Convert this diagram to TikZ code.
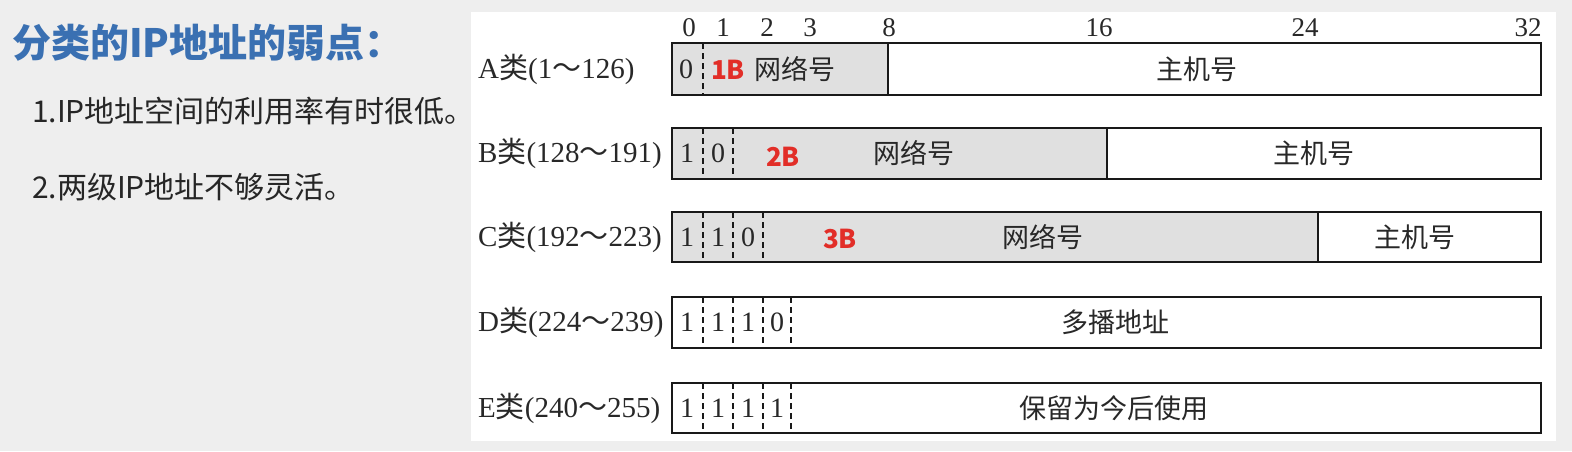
\documentclass[tikz,border=0pt]{standalone}
\usepackage{fontspec}
\setmainfont{Liberation Serif}
\newfontfamily\cjk{Noto Sans CJK SC}
\definecolor{titleblue}{RGB}{58,112,178}
\definecolor{netgray}{RGB}{224,224,224}
\definecolor{markred}{RGB}{226,46,40}
\definecolor{bggray}{RGB}{238,238,238}
\definecolor{inkgray}{RGB}{40,40,40}

\begin{document}
\begin{tikzpicture}[x=1pt,y=-1pt,
  bitno/.style={inner sep=0pt,text=inkgray,font=\fontsize{27}{27}\selectfont},
  bitval/.style={inner sep=0pt,text=inkgray,font=\fontsize{28}{28}\selectfont},
  cls/.style={anchor=west,inner sep=0pt,text=inkgray,font=\fontsize{29}{29}\selectfont},
  field/.style={inner sep=0pt,text=inkgray,font=\cjk\fontsize{27}{27}\selectfont},
  bytes/.style={inner sep=0pt,text=markred,font=\cjk\bfseries\fontsize{26}{26}\selectfont},
  point/.style={anchor=west,inner sep=0pt,text=black!85,font=\cjk\fontsize{30}{30}\selectfont},
  frame/.style={line width=2.5pt,black!90},
  sep/.style={line width=1.5pt,black!90},
  bitsep/.style={line width=1.2pt,black!90,dash pattern=on 6pt off 4pt}]
\useasboundingbox (0,0) rectangle (1572,451);
\fill[bggray] (0,0) rectangle (1572,451);
\fill[white] (471,12) rectangle (1556,441);

% left side
\node[anchor=west,inner sep=0pt,text=titleblue,font=\cjk\bfseries\fontsize{39}{39}\selectfont]
    (title) at (12,43) {分类的IP地址的弱点：};
\node[point] (weak1) at (32,111) {1.IP地址空间的利用率有时很低。};
\node[point] (weak2) at (32,187) {2.两级IP地址不够灵活。};

% bit numbers
\node[bitno] (b0) at (689,28) {0};
\node[bitno] (b1) at (723,28) {1};
\node[bitno] (b2) at (767,28) {2};
\node[bitno] (b3) at (810,28) {3};
\node[bitno] (b8) at (889,28) {8};
\node[bitno] (b16) at (1099,28) {16};
\node[bitno] (b24) at (1305,28) {24};
\node[bitno] (b32) at (1528,28) {32};

% network parts
\fill[netgray] (672,43) rectangle (888,95);
\fill[netgray] (672,128) rectangle (1107,179);
\fill[netgray] (672,212) rectangle (1318,262);

% class A
\node[cls] (clsA) at (478,69) {A{\cjk 类}(1{\cjk ～}126)};
\draw[frame] (672,43) rectangle (1541,95);
\draw[sep] (888,43) -- (888,95);
\draw[bitsep] (703,43) -- (703,95);
\node[bitval] (a0) at (686,69) {0};
\node[bytes] (aB) at (728,70) {1B};
\node[field] (aNet) at (795,69) {网络号};
\node[field] (aHost) at (1197,69) {主机号};

% class B
\node[cls] (clsB) at (478,153) {B{\cjk 类}(128{\cjk ～}191)};
\draw[frame] (672,128) rectangle (1541,179);
\draw[sep] (1107,128) -- (1107,179);
\draw[bitsep] (703,128) -- (703,179);
\draw[bitsep] (733,128) -- (733,179);
\node[bitval] (bb0) at (687,153) {1};
\node[bitval] (bb1) at (718,153) {0};
\node[bytes] (bB) at (783,157) {2B};
\node[field] (bNet) at (914,153) {网络号};
\node[field] (bHost) at (1314,153) {主机号};

% class C
\node[cls] (clsC) at (478,237) {C{\cjk 类}(192{\cjk ～}223)};
\draw[frame] (672,212) rectangle (1541,262);
\draw[sep] (1318,212) -- (1318,262);
\draw[bitsep] (703,212) -- (703,262);
\draw[bitsep] (733,212) -- (733,262);
\draw[bitsep] (763,212) -- (763,262);
\node[bitval] (cb0) at (687,237) {1};
\node[bitval] (cb1) at (718,237) {1};
\node[bitval] (cb2) at (748,237) {0};
\node[bytes] (cB) at (840,239) {3B};
\node[field] (cNet) at (1043,237) {网络号};
\node[field] (cHost) at (1415,237) {主机号};

% class D
\node[cls] (clsD) at (478,322) {D{\cjk 类}(224{\cjk ～}239)};
\draw[frame] (672,297) rectangle (1541,348);
\draw[bitsep] (703,297) -- (703,348);
\draw[bitsep] (733,297) -- (733,348);
\draw[bitsep] (763,297) -- (763,348);
\draw[bitsep] (791,297) -- (791,348);
\node[bitval] (db0) at (687,322) {1};
\node[bitval] (db1) at (718,322) {1};
\node[bitval] (db2) at (748,322) {1};
\node[bitval] (db3) at (777,322) {0};
\node[field] (dAddr) at (1115,322) {多播地址};

% class E
\node[cls] (clsE) at (478,408) {E{\cjk 类}(240{\cjk ～}255)};
\draw[frame] (672,383) rectangle (1541,433);
\draw[bitsep] (703,383) -- (703,433);
\draw[bitsep] (733,383) -- (733,433);
\draw[bitsep] (763,383) -- (763,433);
\draw[bitsep] (791,383) -- (791,433);
\node[bitval] (eb0) at (687,408) {1};
\node[bitval] (eb1) at (718,408) {1};
\node[bitval] (eb2) at (748,408) {1};
\node[bitval] (eb3) at (777,408) {1};
\node[field] (eRes) at (1114,408) {保留为今后使用};

\end{tikzpicture}
\end{document}
